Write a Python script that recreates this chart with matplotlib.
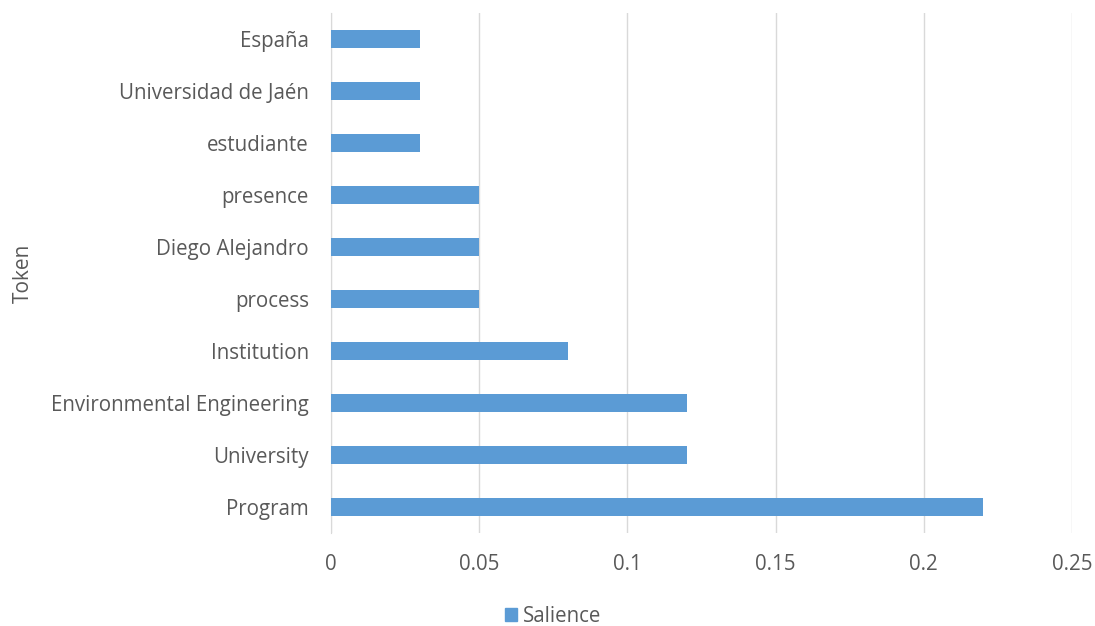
import matplotlib
matplotlib.use("Agg")
import matplotlib.pyplot as plt
from matplotlib.patches import Patch

# Token salience values, listed bottom to top
tokens = ["Program", "University", "Environmental Engineering", "Institution",
          "process", "Diego Alejandro", "presence", "estudiante",
          "Universidad de Jaén", "España"]
salience = [0.22, 0.12, 0.12, 0.08, 0.05, 0.05, 0.05, 0.03, 0.03, 0.03]
x_ticks = [0, 0.05, 0.1, 0.15, 0.2, 0.25]
x_tick_labels = ["0", "0.05", "0.1", "0.15", "0.2", "0.25"]

bar_color = "#5B9BD5"
text_color = "#595959"

plt.rcParams['font.family'] = ['Open Sans', 'DejaVu Sans']

fig = plt.figure(figsize=(10.95, 6.26), dpi=100)
ax = fig.add_axes([0.3023, 0.1486, 0.9790 - 0.3023, 0.979 - 0.1486])

ax.barh(range(len(tokens)), salience, height=0.35, color=bar_color, zorder=3)

ax.set_xlim(0, 0.25)
ax.set_ylim(-0.5, len(tokens) - 0.5)
ax.set_xticks(x_ticks)
ax.set_xticklabels(x_tick_labels)
ax.set_yticks(range(len(tokens)))
ax.set_yticklabels(tokens)

ax.grid(axis='x', color="#D9D9D9", linewidth=1, zorder=0)
for s in ["top", "right", "bottom"]:
    ax.spines[s].set_visible(False)
ax.spines["left"].set_color("#D9D9D9")
ax.tick_params(axis='both', length=0, labelsize=14.8, colors=text_color)
ax.tick_params(axis='x', pad=15)
ax.tick_params(axis='y', pad=16)

ax.set_ylabel("Token", fontsize=15, color=text_color, labelpad=12)

fig.legend(handles=[Patch(color=bar_color, label="Salience")],
           loc="center", bbox_to_anchor=(0.505, 0.015), frameon=False,
           fontsize=14.8, handlelength=0.6, handleheight=0.6, handletextpad=0.3,
           labelcolor=text_color)

fig.savefig("out.png", dpi=100)
